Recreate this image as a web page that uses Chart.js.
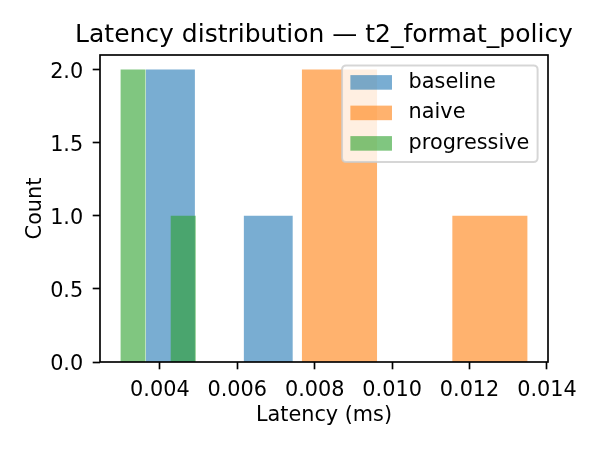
<!DOCTYPE html>
<html><head><meta charset="utf-8">
<script src="https://cdn.jsdelivr.net/npm/chart.js@4/dist/chart.umd.min.js"></script>
<style>html,body{margin:0;padding:0;background:#fff}canvas{display:block}</style>
</head><body>
<canvas id="c" width="600" height="450"></canvas>
<script>
// ---- data ----
const seriesNames = ['baseline', 'naive', 'progressive'];
const baselineEdges = [0.00364, 0.004905, 0.00617, 0.007435];
const baselineCounts = [2, 0, 1];
const naiveEdges = [0.007665, 0.00961, 0.011555, 0.0135];
const naiveCounts = [2, 0, 1];
const progressiveEdges = [0.00298, 0.00363, 0.00428, 0.00493];
const progressiveCounts = [2, 0, 1];
const xTicks = [0.004, 0.006, 0.008, 0.010, 0.012, 0.014];
const yTicks = [0, 0.5, 1.0, 1.5, 2.0];
const titleText = 'Latency distribution — t2_format_policy';
const xLabel = 'Latency (ms)';
const yLabel = 'Count';

// ---- styling ----
const colors = ['rgba(31,119,180,0.6)', 'rgba(255,127,14,0.6)', 'rgba(44,160,44,0.6)'];
const FONT = 'DejaVu Sans';
const EM = 20.8;

function outline(edges, counts) {
  const pts = [{x: edges[0], y: 0}];
  counts.forEach((c, i) => { pts.push({x: edges[i], y: c}); pts.push({x: edges[i + 1], y: c}); });
  pts.push({x: edges[edges.length - 1], y: 0});
  return pts;
}

const allEdges = baselineEdges.concat(naiveEdges, progressiveEdges);
const dMin = Math.min(...allEdges), dMax = Math.max(...allEdges);
const marg = (dMax - dMin) * 0.05;
const yMax = Math.max(...baselineCounts, ...naiveCounts, ...progressiveCounts) * 1.05;

const seriesData = [
  outline(baselineEdges, baselineCounts),
  outline(naiveEdges, naiveCounts),
  outline(progressiveEdges, progressiveCounts)
];

Chart.defaults.font.family = FONT;
Chart.defaults.color = '#000';

const decor = {
  id: 'decor',
  afterDatasetsDraw(chart) {
    const {ctx, chartArea: a} = chart;
    ctx.save();
    ctx.strokeStyle = '#000';
    ctx.lineWidth = 1.67;
    ctx.strokeRect(a.left, a.top, a.right - a.left, a.bottom - a.top);
    ctx.restore();
  },
  afterDraw(chart) {
    const {ctx, chartArea: a} = chart;
    const ds = chart.data.datasets;
    ctx.save();
    // title, centred over the axes
    ctx.font = '25px "' + FONT + '"';
    ctx.fillStyle = '#000';
    ctx.textAlign = 'center';
    ctx.textBaseline = 'alphabetic';
    ctx.fillText(titleText, (a.left + a.right) / 2, a.top - 13);
    // legend
    ctx.font = EM + 'px "' + FONT + '"';
    let maxW = 0;
    ds.forEach(d => { maxW = Math.max(maxW, ctx.measureText(d.label).width); });
    const pad = 0.4 * EM, hW = 2 * EM, hH = 0.7 * EM, tPad = 0.8 * EM;
    const rowH = 30.5, firstRow = 17, lastExtra = 18.7;
    const right = a.right - 10.4, top = a.top + 10.4;
    const w = pad + hW + tPad + maxW + pad;
    const h = firstRow + rowH * (ds.length - 1) + lastExtra;
    const left = right - w;
    ctx.beginPath();
    ctx.roundRect(left, top, w, h, 4);
    ctx.fillStyle = 'rgba(255,255,255,0.8)';
    ctx.fill();
    ctx.strokeStyle = 'rgba(204,204,204,0.8)';
    ctx.lineWidth = 2;
    ctx.stroke();
    ds.forEach((d, i) => {
      const cy = top + firstRow + i * rowH;
      ctx.fillStyle = d.backgroundColor;
      ctx.fillRect(left + pad, cy - hH / 2, hW, hH);
      ctx.fillStyle = '#000';
      ctx.textBaseline = 'middle';
      ctx.textAlign = 'left';
      ctx.fillText(d.label, left + pad + hW + tPad, cy);
    });
    ctx.restore();
  }
};

new Chart(document.getElementById('c'), {
  type: 'line',
  data: {
    datasets: seriesNames.map((n, i) => ({
      label: n,
      data: seriesData[i],
      backgroundColor: colors[i],
      borderColor: 'transparent',
      borderWidth: 0,
      pointRadius: 0,
      pointHoverRadius: 0,
      tension: 0,
      fill: 'origin',
      order: 3 - i
    }))
  },
  options: {
    responsive: false,
    animation: false,
    devicePixelRatio: 1,
    layout: {padding: {left: 0, right: 52, top: 55, bottom: 0}},
    plugins: {
      legend: {display: false},
      tooltip: {enabled: false},
      title: {display: false}
    },
    scales: {
      x: {
        type: 'linear', min: dMin - marg, max: dMax + marg,
        afterBuildTicks: s => { s.ticks = xTicks.map(v => ({value: v})); },
        afterFit: s => { s.height = 88; },
        border: {display: false},
        grid: {display: true, drawOnChartArea: false, drawTicks: true, tickLength: 7.3, tickWidth: 1.67, tickColor: '#000'},
        ticks: {color: '#000', font: {size: EM}, padding: 8.7, maxRotation: 0, autoSkip: false, callback: v => v.toFixed(3)},
        title: {display: true, text: xLabel, color: '#000', font: {size: EM}, padding: {top: 0, bottom: 22}}
      },
      y: {
        type: 'linear', min: 0, max: yMax,
        afterBuildTicks: s => { s.ticks = yTicks.map(v => ({value: v})); },
        afterFit: s => { s.width = 100; },
        border: {display: false},
        grid: {display: true, drawOnChartArea: false, drawTicks: true, tickLength: 7.3, tickWidth: 1.67, tickColor: '#000'},
        ticks: {color: '#000', font: {size: EM}, padding: 9.5, labelOffset: 2.5, autoSkip: false, callback: v => v.toFixed(1)},
        title: {display: true, text: yLabel, color: '#000', font: {size: EM}, padding: {top: 23, bottom: 0}}
      }
    }
  },
  plugins: [decor]
});
</script>
</body></html>
